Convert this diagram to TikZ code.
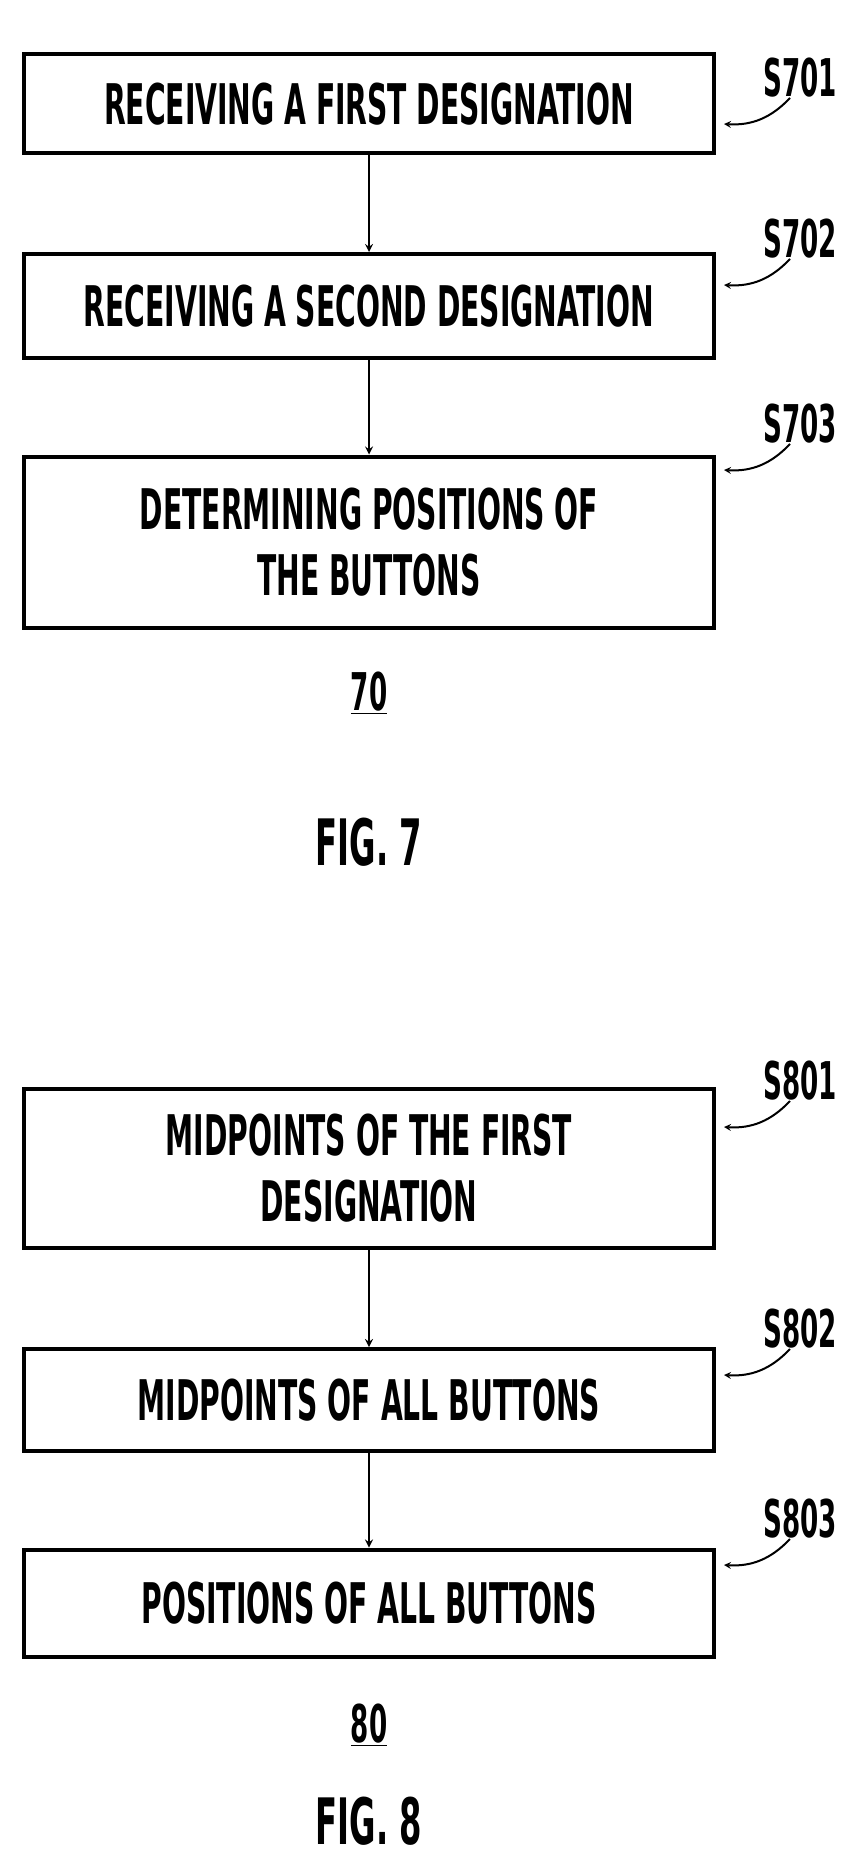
\documentclass[tikz,border=0pt]{standalone}
\usepackage{fontspec}
\newfontfamily\patfont[FakeStretch=0.56]{DejaVu Sans Condensed Bold}
\usetikzlibrary{positioning}
\tikzstyle{stepbox}=[
        draw,
        line width = 4pt,
        fill = white,
        minimum width = 690pt,
        align = center,
        font = \patfont\fontsize{56}{66}\selectfont,
        inner sep = 0pt
    ]
\tikzstyle{steplabel}=[
        font = \patfont\fontsize{52}{56}\selectfont
    ]
\begin{document}
\begin{tikzpicture}[x=1pt, y=-1pt, thick, >=stealth]
        \useasboundingbox (0,0) rectangle (860,1862);
        \node[stepbox, minimum height = 99pt] (s701) at (369,104) {RECEIVING A FIRST DESIGNATION};
        \node[stepbox, minimum height = 104pt] (s702) at (369,306) {RECEIVING A SECOND DESIGNATION};
        \node[stepbox, minimum height = 171pt] (s703) at (369,542) {DETERMINING POSITIONS OF\\THE BUTTONS};
        \node[steplabel] (n70) at (369,693) {\underline{70}};
        \node[steplabel, font = \patfont\fontsize{64}{66}\selectfont] (fig7) at (369,842) {FIG. 7};

        \node[stepbox, minimum height = 159pt] (s801) at (369,1168) {MIDPOINTS OF THE FIRST\\DESIGNATION};
        \node[stepbox, minimum height = 102pt] (s802) at (369,1400) {MIDPOINTS OF ALL BUTTONS};
        \node[stepbox, minimum height = 107pt] (s803) at (369,1603) {POSITIONS OF ALL BUTTONS};
        \node[steplabel] (n80) at (369,1725) {\underline{80}};
        \node[steplabel, font = \patfont\fontsize{64}{66}\selectfont] (fig8) at (369,1821) {FIG. 8};

        \draw[->, line width = 2.5pt] (s701) -- (s702);
        \draw[->, line width = 2.5pt] (s702) -- (s703);
        \draw[->, line width = 2.5pt] (s801) -- (s802);
        \draw[->, line width = 2.5pt] (s802) -- (s803);

        % step numbers with curved pointers
        \foreach \s/\y in {s701/78, s702/239, s703/424, s801/1081, s802/1329, s803/1519} {
            \node[steplabel] (l\s) at (800,\y) {\MakeUppercase{\s}};
            \coordinate (c\s) at (790,\y+20);
            \coordinate (e\s) at (724,\y+46);
            \draw[->, line width = 2pt] (c\s) to[bend left=25] (e\s);
        }
    \end{tikzpicture}
\end{document}
